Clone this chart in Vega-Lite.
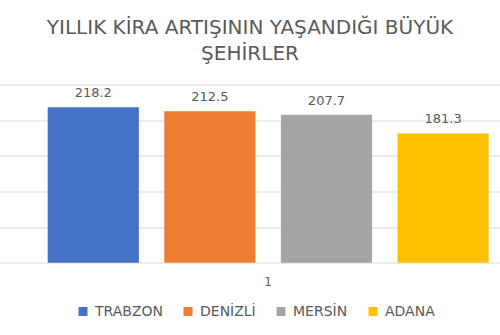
{
  "$schema": "https://vega.github.io/schema/vega-lite/v6.json",
  "width": 500,
  "height": 178.2,
  "autosize": {"type": "none"},
  "padding": {"left": 0, "right": 0, "top": 84.5, "bottom": 72.3},
  "background": "white",
  "config": {"view": {"stroke": null}},
  "title": {
    "text": ["YILLIK KİRA ARTIŞININ YAŞANDIĞI BÜYÜK", "ŞEHİRLER"],
    "font": "DejaVu Sans",
    "fontSize": 20,
    "fontWeight": "normal",
    "color": "#595959",
    "lineHeight": 26.7,
    "anchor": "middle",
    "offset": 20
  },
  "data": {
    "values": [
      {"grp": "1", "city": "TRABZON", "value": 218.2},
      {"grp": "1", "city": "DENİZLİ", "value": 212.5},
      {"grp": "1", "city": "MERSİN", "value": 207.7},
      {"grp": "1", "city": "ADANA", "value": 181.3}
    ]
  },
  "encoding": {
    "x": {
      "field": "grp",
      "type": "nominal",
      "scale": {"paddingInner": 0, "paddingOuter": 0.0669, "align": 0.808},
      "axis": {
        "title": null,
        "labelAngle": 0,
        "domain": false,
        "ticks": false,
        "labelPadding": 14,
        "labelFont": "DejaVu Sans",
        "labelFontSize": 12,
        "labelColor": "#595959"
      }
    },
    "xOffset": {
      "field": "city",
      "type": "nominal",
      "sort": ["TRABZON", "DENİZLİ", "MERSİN", "ADANA"],
      "scale": {"paddingInner": 0.218, "paddingOuter": 0}
    },
    "y": {
      "field": "value",
      "type": "quantitative",
      "scale": {"domain": [0, 250], "nice": false},
      "axis": {
        "title": null,
        "labels": false,
        "ticks": false,
        "domain": false,
        "grid": true,
        "values": [0, 50, 100, 150, 200, 250],
        "gridColor": "#d9d9d9",
        "gridWidth": 1
      }
    }
  },
  "layer": [
    {
      "mark": {"type": "bar"},
      "encoding": {
        "color": {
          "field": "city",
          "type": "nominal",
          "sort": ["TRABZON", "DENİZLİ", "MERSİN", "ADANA"],
          "scale": {
            "domain": ["TRABZON", "DENİZLİ", "MERSİN", "ADANA"],
            "range": ["#4472C4", "#ED7D31", "#A5A5A5", "#FFC000"]
          },
          "legend": {
            "title": null,
            "orient": "none",
            "legendX": 76,
            "legendY": 220,
            "padding": 0,
            "direction": "horizontal",
            "symbolType": "square",
            "symbolSize": 81,
            "symbolStrokeWidth": 0,
            "labelFont": "DejaVu Sans",
            "labelFontSize": 14,
            "labelColor": "#595959",
            "labelOffset": 5,
            "columnPadding": 18
          }
        }
      }
    },
    {
      "mark": {
        "type": "text",
        "baseline": "alphabetic",
        "dy": -10,
        "font": "DejaVu Sans",
        "fontSize": 13,
        "color": "#595959"
      },
      "encoding": {
        "text": {"field": "value", "type": "quantitative", "format": ".1f"}
      }
    }
  ]
}
